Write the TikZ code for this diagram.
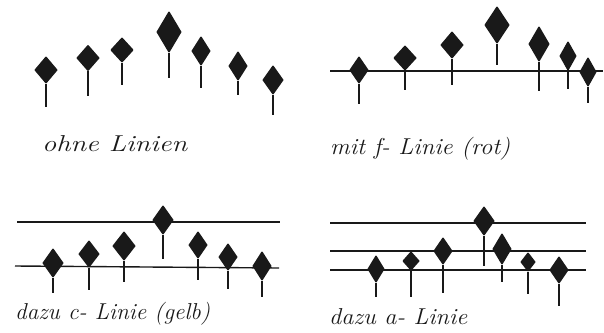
\documentclass[tikz,border=0pt]{standalone}
\usepackage{tikz}
\usetikzlibrary{shapes.geometric}
\usepackage{graphicx}
\definecolor{ink}{RGB}{25,25,25}
\tikzset{
  note/.style={diamond, fill=ink, draw=ink, line width=1.5pt, line join=round, inner sep=0pt},
  stem/.style={ink, line width=1.6pt},
  staff/.style={ink, line width=1.4pt},
  hand/.style={inner sep=0pt, anchor=base west, ink, font=\fontsize{23}{23}\selectfont\itshape}
}

\begin{document}
\begin{tikzpicture}[x=1pt, y=-1pt]
  \useasboundingbox (0,0) rectangle (604,332);
  % ohne Linien
  \foreach \x/\y/\w/\h/\s [count=\i] in {46/70/22/26/107, 88/58/22/25/96, 122/50/22/24/85,
      169/32/24/40/78, 201/51/18/28/88, 238/66/18/28/95, 273/80/20/28/115} {
    \node[note, minimum width=\w, minimum height=\h] (a\i) at (\x,\y) {};
    \coordinate (a\i e) at (\x,\s);
    \draw[stem] (a\i.south) -- (a\i e);
  }
  \node[hand] (la) at (42,151) {\resizebox{145pt}{\height}{ohne Linien}};
  % f-Linie
  \draw[staff] (330,71) -- (603,71);
  \foreach \x/\y/\w/\h/\s [count=\i] in {359/70/18/26/104, 405/58/22/24/90, 452/45/22/26/85,
      497/25/24/36/65, 539/44/20/34/91, 568/56/16/28/89, 588/72/16/28/103} {
    \node[note, minimum width=\w, minimum height=\h] (b\i) at (\x,\y) {};
    \coordinate (b\i e) at (\x,\s);
    \draw[stem] (b\i.south) -- (b\i e);
  }
  \node[hand] (lb) at (330,154) {\resizebox{180pt}{\height}{mit f- Linie (rot)}};
  % c-Linie
  \draw[staff] (17,222) -- (280,222);
  \draw[staff] (15,266) -- (279,268);
  \foreach \x/\y/\w/\h/\s [count=\i] in {53/263/20/28/293, 89/254/20/26/290, 124/246/22/28/282,
      163/220/20/28/259, 198/245/18/26/280, 228/257/18/26/289, 262/266/18/28/297} {
    \node[note, minimum width=\w, minimum height=\h] (c\i) at (\x,\y) {};
    \coordinate (c\i e) at (\x,\s);
    \draw[stem] (c\i.south) -- (c\i e);
  }
  \node[hand] (lc) at (15,319) {\resizebox{195pt}{\height}{dazu c- Linie (gelb)}};
  % a-Linie
  \foreach \y in {223, 251, 270} {
    \draw[staff] (330,\y) -- (586,\y);
  }
  \foreach \x/\y/\w/\h/\s [count=\i] in {376/269/16/26/297, 411/261/16/18/297, 443/251/18/26/293,
      484/221/20/28/266, 502/249/18/30/282, 528/262/14/18/294, 559/270/18/26/306} {
    \node[note, minimum width=\w, minimum height=\h] (d\i) at (\x,\y) {};
    \coordinate (d\i e) at (\x,\s);
    \draw[stem] (d\i.south) -- (d\i e);
  }
  \node[hand] (ld) at (329,324) {\resizebox{138pt}{\height}{dazu a- Linie}};
\end{tikzpicture}
\end{document}
